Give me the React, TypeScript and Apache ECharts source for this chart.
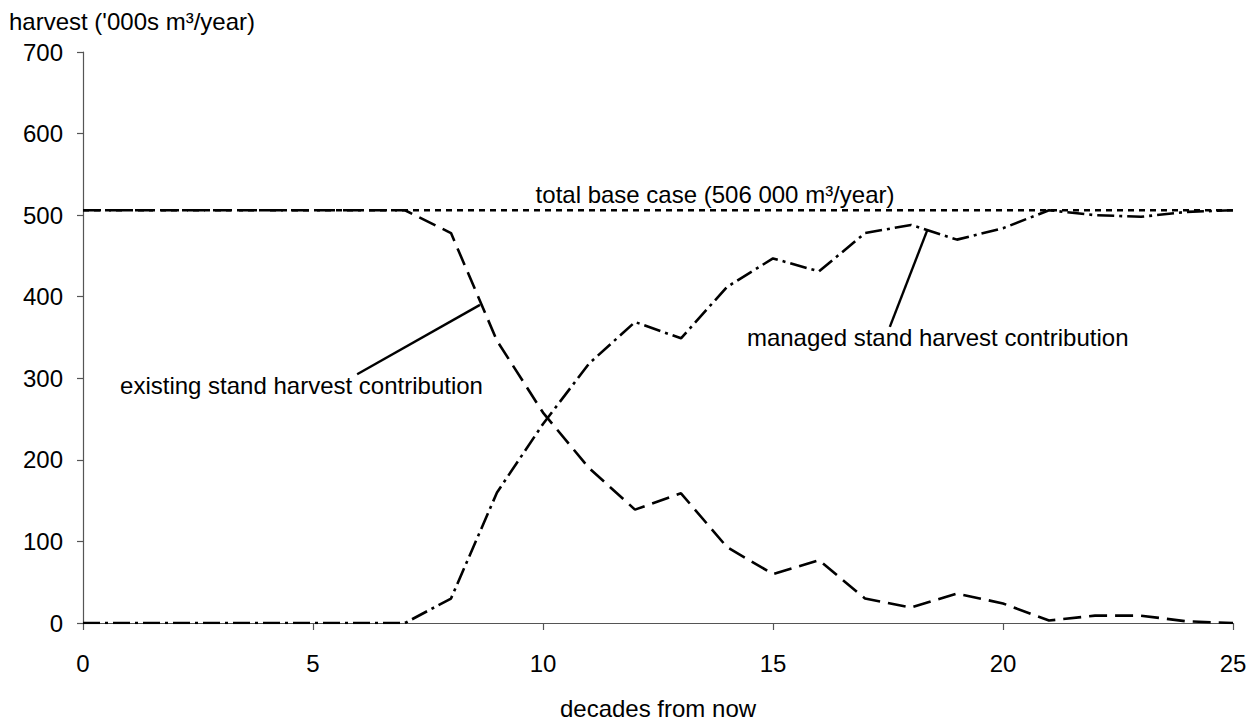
import React, { useEffect, useRef } from "react";
import * as echarts from "echarts";

const decades = [0, 1, 2, 3, 4, 5, 6, 7, 8, 9, 10, 11, 12, 13, 14, 15, 16, 17, 18, 19, 20, 21, 22, 23, 24, 25];
const existingStand = [506, 506, 506, 506, 506, 506, 506, 506, 478, 346, 258, 190, 139, 159, 93, 60, 77, 30, 19, 36, 24, 3, 9, 9, 2, 0];
const managedStand = [0, 0, 0, 0, 0, 0, 0, 0, 30, 160, 244, 318, 369, 349, 412, 447, 431, 478, 488, 470, 484, 506, 500, 498, 504, 506];
const totalBaseCase = [506, 506];
const totalBaseX = [0, 25];

const FONT = "Liberation Sans, Arial, sans-serif";

export default function App() {
  const ref = useRef<HTMLDivElement>(null);
  useEffect(() => {
    if (!ref.current) return;
    const chart = echarts.init(ref.current, undefined, { renderer: "svg" });
    const textStyle = { fontFamily: FONT, fontSize: 24, color: "#000" };
    chart.setOption({
      animation: false,
      backgroundColor: "#fff",
      textStyle: { fontFamily: FONT },
      grid: { left: 83, right: 18, top: 52, bottom: 95, containLabel: false },
      xAxis: {
        type: "value",
        min: 0,
        max: 25,
        interval: 5,
        name: "decades from now",
        nameLocation: "middle",
        nameGap: 73,
        nameTextStyle: { ...textStyle },
        axisLine: { show: true, lineStyle: { color: "#555", width: 1.2 } },
        axisTick: { show: true, length: 7, lineStyle: { color: "#555", width: 1.2 } },
        axisLabel: { ...textStyle, margin: 28 },
        splitLine: { show: false },
      },
      yAxis: {
        type: "value",
        min: 0,
        max: 700,
        interval: 100,
        name: "harvest ('000s m³/year)",
        nameLocation: "end",
        nameGap: 31,
        nameTextStyle: { ...textStyle, align: "left", verticalAlign: "middle", padding: [0, 0, 0, -74] },
        axisLine: { show: true, lineStyle: { color: "#555", width: 1.2 } },
        axisTick: { show: true, length: 6, lineStyle: { color: "#555", width: 1.2 } },
        axisLabel: { ...textStyle, margin: 20 },
        splitLine: { show: false },
      },
      series: [
        {
          name: "total base case",
          type: "line",
          data: totalBaseX.map((x, i) => [x, totalBaseCase[i]]),
          symbol: "none",
          lineStyle: { color: "#000", width: 2.6, type: [6, 5] },
          z: 2,
        },
        {
          name: "existing stand harvest contribution",
          type: "line",
          data: decades.map((d, i) => [d, existingStand[i]]),
          symbol: "none",
          lineStyle: { color: "#000", width: 2.6, type: [18, 8] },
          z: 3,
          markLine: {
            silent: true,
            symbol: "none",
            lineStyle: { color: "#000", width: 2.4, type: "solid" },
            label: { show: false },
            data: [[{ coord: [5.96, 305] }, { coord: [8.63, 390] }]],
          },
        },
        {
          name: "managed stand harvest contribution",
          type: "line",
          data: decades.map((d, i) => [d, managedStand[i]]),
          symbol: "none",
          lineStyle: { color: "#000", width: 2.6, type: [17, 5, 3, 5] },
          z: 3,
          markLine: {
            silent: true,
            symbol: "none",
            lineStyle: { color: "#000", width: 2.4, type: "solid" },
            label: { show: false },
            data: [[{ coord: [17.54, 363] }, { coord: [18.35, 481] }]],
          },
        },
      ],
    });
    const p1 = chart.convertToPixel({ gridIndex: 0 }, [13.74, 525]) as number[];
    const p2 = chart.convertToPixel({ gridIndex: 0 }, [4.75, 291]) as number[];
    const p3 = chart.convertToPixel({ gridIndex: 0 }, [18.58, 350]) as number[];
    const mk = (p: number[], text: string) => ({
      type: "text",
      x: p[0],
      y: p[1],
      style: { text, fill: "#000", font: `24px ${FONT}`, align: "center", verticalAlign: "middle" },
    });
    chart.setOption({
      graphic: [
        mk(p1, "total base case (506 000 m³/year)"),
        mk(p2, "existing stand harvest contribution"),
        mk(p3, "managed stand harvest contribution"),
      ],
    });
    return () => chart.dispose();
  }, []);
  return <div ref={ref} style={{ width: 1251, height: 725, position: "absolute", left: 0, top: 0 }} />;
}
